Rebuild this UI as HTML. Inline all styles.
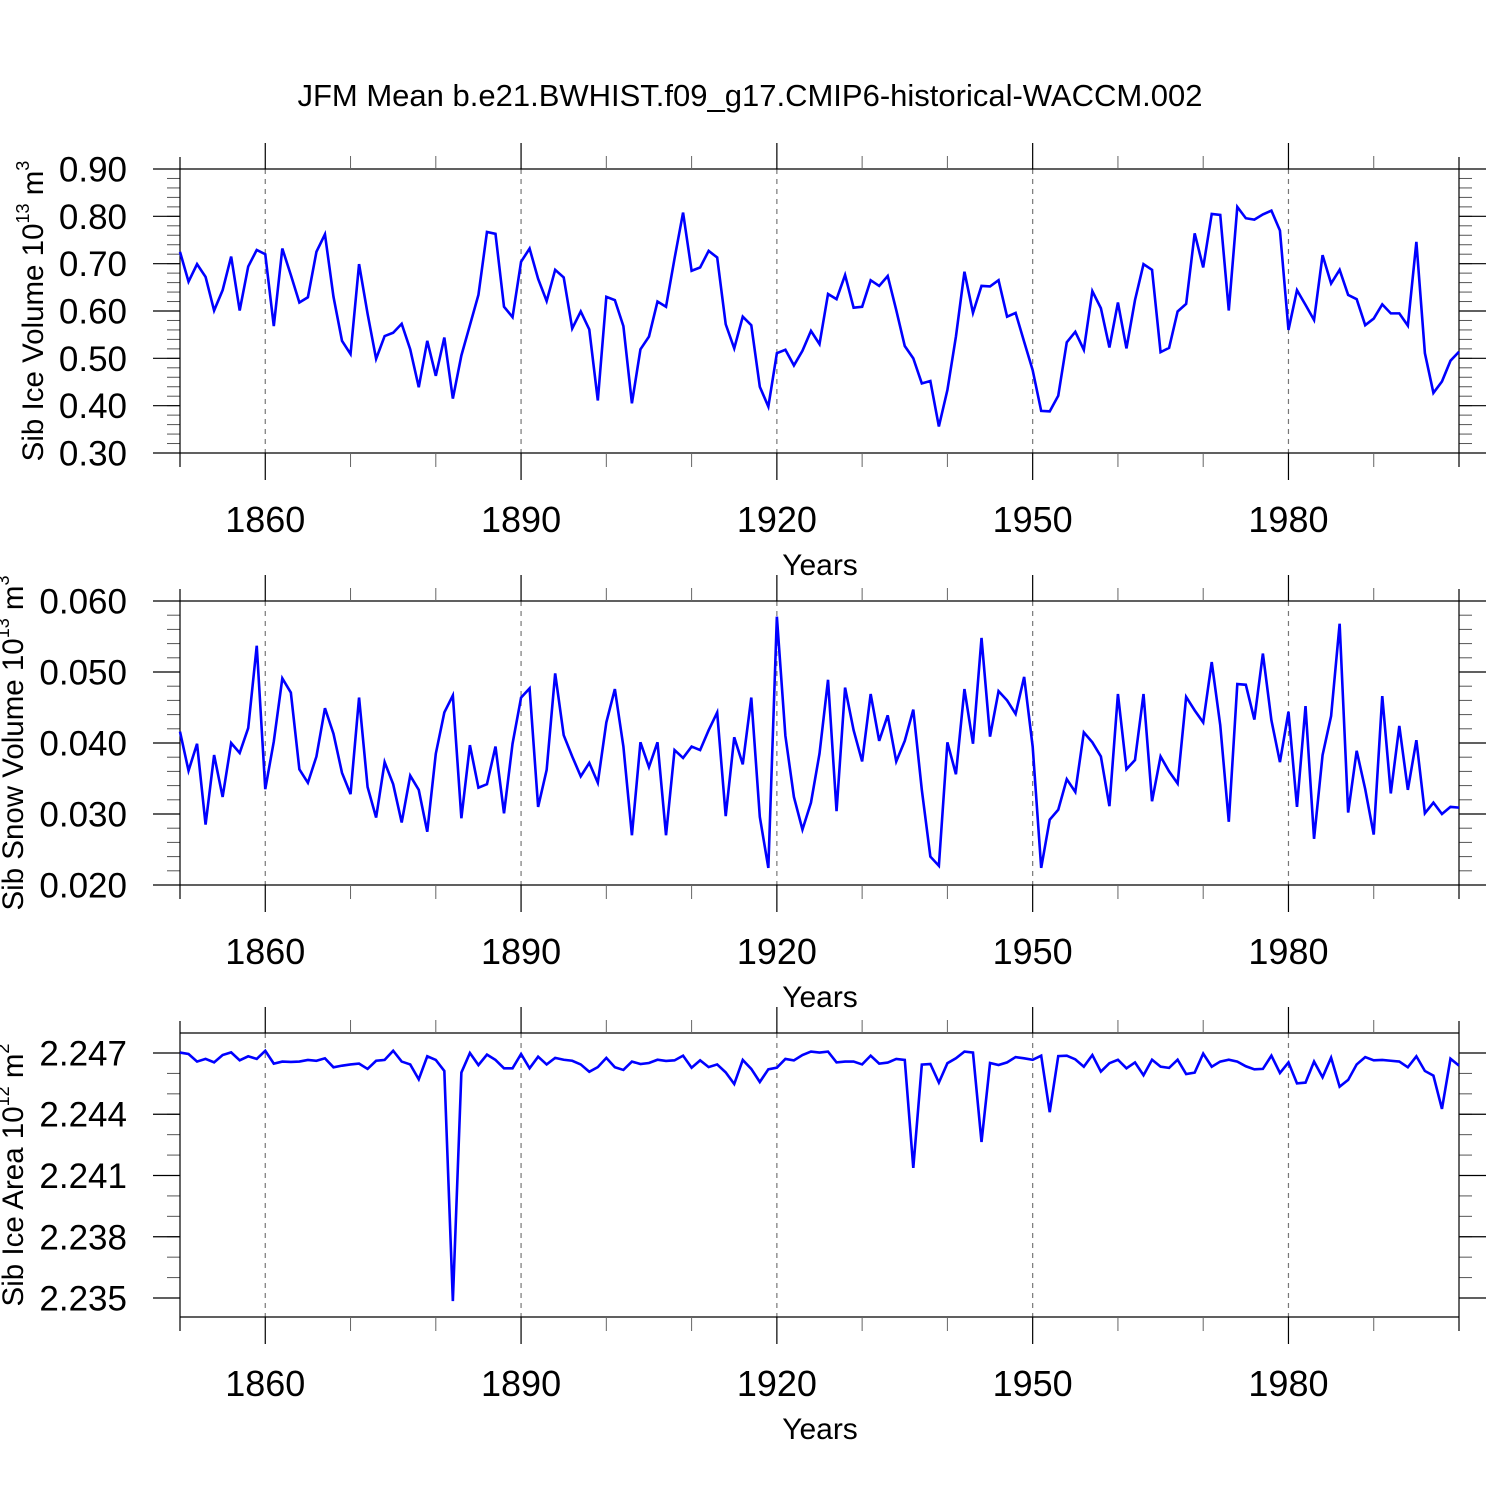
<!DOCTYPE html>
<html><head><meta charset="utf-8"><style>
html,body{margin:0;padding:0;background:#fff;}
svg{display:block;font-family:"Liberation Sans",Arial,sans-serif;}
</style></head><body>
<svg id="chart" width="1500" height="1500" viewBox="0 0 1500 1500" xmlns="http://www.w3.org/2000/svg">
<rect x="0" y="0" width="1500" height="1500" fill="#fff"/>
<text x="750" y="106" font-size="31" text-anchor="middle">JFM Mean b.e21.BWHIST.f09_g17.CMIP6-historical-WACCM.002</text>
<text transform="translate(43,311) rotate(-90)" font-size="29.5" text-anchor="middle">Sib Ice Volume 10<tspan font-size="18" dy="-14">13</tspan><tspan dy="14"> m</tspan><tspan font-size="18" dy="-14">3</tspan></text>
<text transform="translate(23,743) rotate(-90)" font-size="29.5" text-anchor="middle">Sib Snow Volume 10<tspan font-size="18" dy="-14">13</tspan><tspan dy="14"> m</tspan><tspan font-size="18" dy="-14">3</tspan></text>
<text transform="translate(23,1175) rotate(-90)" font-size="29.5" text-anchor="middle">Sib Ice Area 10<tspan font-size="18" dy="-14">12</tspan><tspan dy="14"> m</tspan><tspan font-size="18" dy="-14">2</tspan></text>
</svg>
<script>
const startYear = 1850;
const endYear = 2000;
const xTickYears = [1860, 1890, 1920, 1950, 1980];
const xTickLabels = ["1860", "1890", "1920", "1950", "1980"];
const iceVolume = [0.725,0.662,0.699,0.672,0.601,0.644,0.715,0.601,0.694,0.729,0.720,0.568,0.732,0.676,0.618,0.629,0.725,0.762,0.630,0.537,0.509,0.699,0.594,0.499,0.547,0.554,0.573,0.519,0.439,0.537,0.463,0.544,0.415,0.506,0.570,0.634,0.767,0.763,0.609,0.587,0.704,0.732,0.668,0.621,0.687,0.671,0.563,0.599,0.561,0.411,0.630,0.623,0.568,0.405,0.519,0.546,0.620,0.609,0.711,0.808,0.685,0.692,0.727,0.713,0.572,0.521,0.588,0.570,0.440,0.398,0.511,0.518,0.485,0.516,0.558,0.530,0.636,0.625,0.676,0.607,0.609,0.665,0.653,0.674,0.602,0.526,0.500,0.447,0.452,0.356,0.433,0.546,0.683,0.596,0.653,0.652,0.665,0.588,0.596,0.535,0.475,0.389,0.388,0.421,0.534,0.556,0.518,0.642,0.606,0.523,0.618,0.521,0.623,0.699,0.687,0.513,0.522,0.599,0.615,0.764,0.692,0.805,0.803,0.601,0.820,0.796,0.793,0.804,0.812,0.770,0.560,0.644,0.613,0.581,0.718,0.658,0.687,0.634,0.625,0.570,0.584,0.614,0.595,0.595,0.569,0.746,0.511,0.427,0.451,0.495,0.514];
const snowVolume = [0.0416,0.0361,0.0399,0.0285,0.0383,0.0324,0.0400,0.0386,0.0421,0.0537,0.0335,0.0402,0.0491,0.0471,0.0363,0.0344,0.0381,0.0449,0.0413,0.0358,0.0328,0.0464,0.0338,0.0295,0.0373,0.0342,0.0288,0.0354,0.0334,0.0275,0.0385,0.0443,0.0467,0.0294,0.0397,0.0337,0.0342,0.0395,0.0301,0.0399,0.0464,0.0477,0.0310,0.0362,0.0498,0.0411,0.0381,0.0353,0.0372,0.0344,0.0429,0.0476,0.0395,0.0270,0.0401,0.0366,0.0401,0.0270,0.0390,0.0379,0.0395,0.0390,0.0418,0.0443,0.0297,0.0408,0.0370,0.0464,0.0296,0.0224,0.0578,0.0410,0.0324,0.0278,0.0316,0.0385,0.0489,0.0304,0.0478,0.0418,0.0374,0.0469,0.0403,0.0439,0.0374,0.0403,0.0447,0.0334,0.0240,0.0227,0.0401,0.0356,0.0476,0.0399,0.0548,0.0409,0.0473,0.0460,0.0441,0.0493,0.0395,0.0224,0.0292,0.0306,0.0349,0.0331,0.0415,0.0401,0.0381,0.0311,0.0469,0.0363,0.0376,0.0469,0.0318,0.0381,0.0360,0.0343,0.0465,0.0446,0.0429,0.0514,0.0425,0.0289,0.0483,0.0482,0.0433,0.0526,0.0432,0.0373,0.0444,0.0310,0.0452,0.0265,0.0383,0.0438,0.0568,0.0302,0.0389,0.0335,0.0271,0.0466,0.0329,0.0424,0.0334,0.0404,0.0301,0.0316,0.0300,0.0310,0.0309];
const iceArea = [2.24702,2.24695,2.24658,2.24671,2.24654,2.24690,2.24703,2.24664,2.24684,2.24671,2.24711,2.24648,2.24658,2.24656,2.24658,2.24666,2.24662,2.24674,2.24630,2.24638,2.24644,2.24648,2.24622,2.24662,2.24666,2.24711,2.24658,2.24644,2.24571,2.24684,2.24666,2.24612,2.23485,2.24604,2.24700,2.24641,2.24692,2.24666,2.24625,2.24625,2.24695,2.24625,2.24682,2.24644,2.24676,2.24667,2.24662,2.24644,2.24608,2.24631,2.24676,2.24630,2.24617,2.24658,2.24646,2.24651,2.24667,2.24661,2.24664,2.24687,2.24628,2.24664,2.24631,2.24644,2.24605,2.24548,2.24666,2.24622,2.24558,2.24620,2.24628,2.24671,2.24664,2.24690,2.24707,2.24702,2.24707,2.24654,2.24658,2.24658,2.24644,2.24687,2.24648,2.24653,2.24671,2.24666,2.24137,2.24643,2.24646,2.24555,2.24650,2.24674,2.24707,2.24702,2.24264,2.24651,2.24641,2.24654,2.24680,2.24674,2.24667,2.24687,2.24410,2.24685,2.24687,2.24669,2.24633,2.24690,2.24609,2.24650,2.24667,2.24625,2.24654,2.24591,2.24667,2.24633,2.24627,2.24667,2.24597,2.24604,2.24697,2.24633,2.24658,2.24667,2.24658,2.24635,2.24620,2.24622,2.24687,2.24602,2.24654,2.24551,2.24555,2.24658,2.24581,2.24677,2.24535,2.24568,2.24644,2.24680,2.24664,2.24666,2.24662,2.24658,2.24630,2.24684,2.24612,2.24589,2.24426,2.24672,2.24638];
const iceTicks = [0.30,0.40,0.50,0.60,0.70,0.80,0.90];
const iceTickLabels = ["0.30","0.40","0.50","0.60","0.70","0.80","0.90"];
const snowTicks = [0.020,0.030,0.040,0.050,0.060];
const snowTickLabels = ["0.020","0.030","0.040","0.050","0.060"];
const areaTicks = [2.235,2.238,2.241,2.244,2.247];
const areaTickLabels = ["2.235","2.238","2.241","2.244","2.247"];

const NS = "http://www.w3.org/2000/svg";
const svg = document.getElementById("chart");
const X0 = 180, X1 = 1459;
function xScale(yr){ return X0 + (yr - startYear) / (endYear - startYear) * (X1 - X0); }
function mk(tag, attrs, parent){
  const e = document.createElementNS(NS, tag);
  for (const k in attrs) e.setAttribute(k, attrs[k]);
  (parent || svg).appendChild(e);
  return e;
}

function panel(name, top, bottom, yMin, yMax, values, ticks, labels, minorStep, yearLabelY, yearsTitleY){
  const g = mk("g", {});
  
  
  const ys = v => bottom - (v - yMin) / (yMax - yMin) * (bottom - top);
  xTickYears.forEach(yr => {
    const l = mk("line", {x1: xScale(yr), x2: xScale(yr), y1: top, y2: bottom, stroke: "#777", "stroke-width": 1.2, "stroke-dasharray": "5,5"}, g);
    
    
  });
  const base = Math.ceil(yMin / minorStep - 1e-6);
  for (let i = base; i * minorStep <= yMax + 1e-9; i++) {
    const y = ys(i * minorStep);
    const t1 = mk("line", {x1: X0 - 13, x2: X0, y1: y, y2: y, stroke: "#555", "stroke-width": 1}, g);
    
    
    const t2 = mk("line", {x1: X1, x2: X1 + 13, y1: y, y2: y, stroke: "#555", "stroke-width": 1}, g);
    
    
  }
  ticks.forEach((v, i) => {
    const y = ys(v);
    const t = mk("path", {d: `M${X0 - 27},${y}H${X0}M${X1},${y}H${X1 + 27}`, stroke: "#000", "stroke-width": 1.2}, g);
    
    
    const tx = mk("text", {x: 127, y: y + 12.5, "font-size": 35, "text-anchor": "end"}, g);
    tx.textContent = labels[i];
    
    
  });
  const fr = mk("path", {d: `M${X0},${top - 12}V${bottom + 14}M${X1},${top - 12}V${bottom + 14}M${X0},${top}H${X1}M${X0},${bottom}H${X1}`, stroke: "#000", "stroke-width": 1.2, fill: "none"}, g);
  
  
  for (let yr = 1870; yr < endYear; yr += 10) {
    if (xTickYears.indexOf(yr) >= 0) continue;
    const m = mk("path", {d: `M${xScale(yr)},${top - 13}V${top}M${xScale(yr)},${bottom}V${bottom + 14}`, stroke: "#666", "stroke-width": 1}, g);
    
    
  }
  xTickYears.forEach((yr, i) => {
    const x = xScale(yr);
    const m = mk("path", {d: `M${x},${top - 26}V${top}M${x},${bottom}V${bottom + 27}`, stroke: "#000", "stroke-width": 1.2}, g);
    
    
    const tx = mk("text", {x: x, y: yearLabelY, "font-size": 36, "text-anchor": "middle"}, g);
    tx.textContent = xTickLabels[i];
    
    
  });
  const xt = mk("text", {x: 820, y: yearsTitleY, "font-size": 30, "text-anchor": "middle"}, g);
  xt.textContent = "Years";
  
  
  const pts = values.map((v, i) => xScale(startYear + i).toFixed(2) + "," + ys(v).toFixed(2)).join(" ");
  const pl = mk("polyline", {points: pts, fill: "none", stroke: "#0000ff", "stroke-width": 2.6, "stroke-linejoin": "miter"}, g);
  
  
}

panel("ice-volume", 169, 453, 0.30, 0.90, iceVolume, iceTicks, iceTickLabels, 0.02, 532, 575);
panel("snow-volume", 601, 885, 0.020, 0.060, snowVolume, snowTicks, snowTickLabels, 0.002, 964, 1007);
panel("ice-area", 1033, 1317, 2.235 - 19/20.417*0.001, 2.247 + 20/20.417*0.001, iceArea, areaTicks, areaTickLabels, 0.001, 1396, 1439);
</script>
</body></html>
